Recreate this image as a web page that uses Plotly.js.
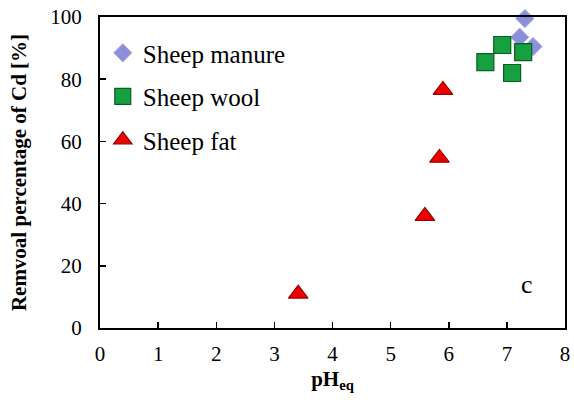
<!DOCTYPE html>
<html>
<head>
<meta charset="utf-8">
<script src="https://cdn.plot.ly/plotly-3.0.1.min.js"></script>
<style>html,body{margin:0;padding:0;background:#fff;}#chart{width:574px;height:400px;}</style>
</head>
<body>
<div id="chart"></div>
<script>
const manureX = [7.31, 7.22, 7.45];
const manureY = [99.5, 93.5, 90.5];
const woolX = [6.63, 6.92, 7.09, 7.28];
const woolY = [85.5, 91, 82, 88.7];
const fatX = [3.41, 5.59, 5.84, 5.9];
const fatY = [11, 36, 54.7, 76.5];
const seriesNames = ['Sheep manure', 'Sheep wool', 'Sheep fat'];
const xTicks = [0, 1, 2, 3, 4, 5, 6, 7, 8];
const yTicks = [0, 20, 40, 60, 80, 100];

const serif = "Liberation Serif";

const traces = [
  {x: manureX, y: manureY, name: seriesNames[0], legendgroup: 'a', type: 'scatter', mode: 'markers',
   marker: {symbol: 'diamond', size: 14, color: '#8c8fdc', line: {color: '#a7a9e6', width: 1}}, cliponaxis: false},
  {x: woolX, y: woolY, name: seriesNames[1], legendgroup: 'b', type: 'scatter', mode: 'markers',
   marker: {symbol: 'square', size: 17, color: '#16a040', line: {color: '#0b5e22', width: 1.2}}, cliponaxis: false},
  {x: fatX, y: fatY, name: seriesNames[2], legendgroup: 'c', type: 'scatter', mode: 'markers',
   marker: {symbol: 'triangle-up', size: 17, color: '#ee0000', line: {color: '#990000', width: 1.2}}, cliponaxis: false}
];

const layout = {
  width: 574, height: 400,
  margin: {l: 100, r: 9, t: 17, b: 72},
  paper_bgcolor: '#ffffff', plot_bgcolor: '#ffffff',
  font: {family: serif, color: '#000', size: 20},
  showlegend: true,
  legend: {x: 0.006, y: 0.958, xanchor: 'left', yanchor: 'top', bgcolor: 'rgba(0,0,0,0)',
           font: {family: serif, size: 25, color: '#000'}, traceorder: 'grouped', tracegroupgap: 8,
           itemwidth: 30},
  xaxis: {range: [0, 8], tickvals: xTicks, ticktext: xTicks.map(String), ticks: 'inside', ticklen: 6, tickwidth: 1.5,
          tickcolor: '#000', showgrid: false, zeroline: false, showline: true, linecolor: '#000', linewidth: 2,
          mirror: true, tickfont: {family: serif, size: 21, color: '#000'}, ticklabelstandoff: 6,
          title: {text: '<b>pH<sub>eq</sub></b>', font: {family: serif, size: 21, color: '#000'}, standoff: 6}},
  yaxis: {range: [0, 100], tickvals: yTicks, ticktext: yTicks.map(String), ticks: 'inside', ticklen: 6, tickwidth: 1.5,
          tickcolor: '#000', showgrid: false, zeroline: false, showline: true, linecolor: '#000', linewidth: 2,
          mirror: true, tickfont: {family: serif, size: 21, color: '#000'}, ticklabelstandoff: 12,
          title: {text: '<b>Remvoal percentage of Cd [%]</b>', font: {family: serif, size: 21, color: '#000'}, standoff: 18}},
  annotations: [
    {x: 7.35, y: 14, xref: 'x', yref: 'y', text: 'c', showarrow: false, font: {family: serif, size: 26, color: '#000'}}
  ]
};

Plotly.newPlot('chart', traces, layout, {displayModeBar: false, staticPlot: true});
</script>
</body>
</html>
